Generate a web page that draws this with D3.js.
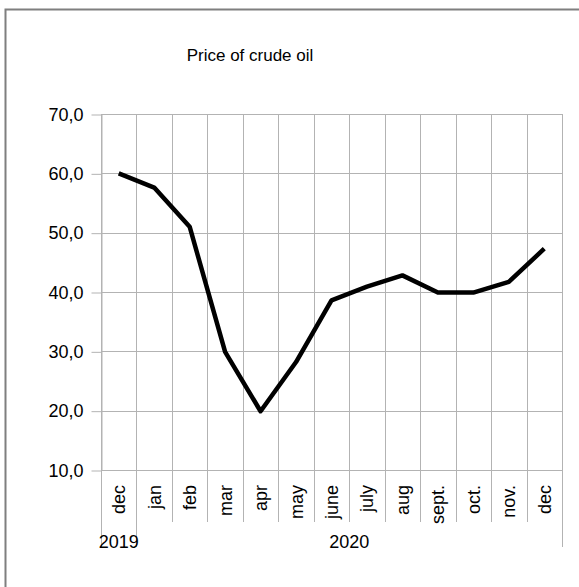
<!DOCTYPE html>
<html>
<head>
<meta charset="utf-8">
<script src="https://cdn.jsdelivr.net/npm/d3@7"></script>
<style>
  body { margin: 0; background: #fff; }
  svg { display: block; font-family: "Liberation Sans", Arial, sans-serif; }
</style>
</head>
<body>
<div id="chart"></div>
<script>
// chart data
var months = ["dec", "jan", "feb", "mar", "apr", "may", "june", "july", "aug", "sept.", "oct.", "nov.", "dec"];
var years = [
    { label: "2019", from: 0, to: 1 },
    { label: "2020", from: 1, to: 13 }
];
var prices = [60.0, 57.6, 51.0, 29.9, 19.9, 28.2, 38.6, 40.9, 42.8, 39.9, 39.9, 41.7, 47.3];
var yTicks = [10, 20, 30, 40, 50, 60, 70];

var W = 579, H = 587;
var plotL = 101, plotR = 562, plotT = 114, plotB = 470;
var fs = "18px";

var svg = d3.select("#chart").append("svg")
    .attr("width", W)
    .attr("height", H);

// outer frame
svg.append("rect")
    .attr("x", 5.5).attr("y", 9.5)
    .attr("width", 600).attr("height", 600)
    .attr("fill", "none")
    .attr("stroke", "#7f7f7f")
    .attr("stroke-width", 2);

svg.append("text")
    .attr("x", 250).attr("y", 61)
    .attr("text-anchor", "middle")
    .style("font-size", "17px")
    .text("Price of crude oil");

var x = d3.scaleBand().domain(d3.range(months.length)).range([plotL, plotR]).padding(0);
var y = d3.scaleLinear().domain([10, 70]).range([plotB, plotT]);

var grid = "#b3b3b3";

// horizontal grid
svg.append("g").selectAll("line")
    .data(yTicks)
    .join("line")
    .attr("x1", plotL).attr("x2", plotR)
    .attr("y1", function(d) { return Math.round(y(d)) + 0.5; })
    .attr("y2", function(d) { return Math.round(y(d)) + 0.5; })
    .attr("stroke", grid);

// y ticks
var yAxis = svg.append("g")
    .attr("transform", "translate(" + (plotL + 0.5) + ",0.5)")
    .call(d3.axisLeft(y).tickValues(yTicks).tickSize(10).tickSizeOuter(0)
        .tickFormat(function(d) { return d3.format(".1f")(d).replace(".", ","); }));
yAxis.select(".domain").attr("stroke", grid);
yAxis.selectAll(".tick line").attr("stroke", grid);
yAxis.selectAll(".tick text")
    .attr("x", -18)
    .attr("fill", "#000")
    .style("font-size", fs)
    .style("font-family", "Liberation Sans, Arial, sans-serif");

// vertical category boundaries (plot + month row)
var bounds = d3.range(months.length + 1).map(function(i) {
    return i < months.length ? x(i) : plotR;
});
svg.append("g").selectAll("line")
    .data(bounds)
    .join("line")
    .attr("x1", function(d) { return Math.round(d) + 0.5; })
    .attr("x2", function(d) { return Math.round(d) + 0.5; })
    .attr("y1", plotT).attr("y2", plotB + 52)
    .attr("stroke", grid);

// year dividers
var yearBounds = [0, 1, 13].map(function(i) { return i < months.length ? x(i) : plotR; });
svg.append("g").selectAll("line")
    .data(yearBounds)
    .join("line")
    .attr("x1", function(d) { return Math.round(d) + 0.5; })
    .attr("x2", function(d) { return Math.round(d) + 0.5; })
    .attr("y1", plotB).attr("y2", plotB + 77)
    .attr("stroke", grid);

// month labels
svg.append("g").selectAll("text")
    .data(months)
    .join("text")
    .attr("transform", function(d, i) {
        return "translate(" + (x(i) + x.bandwidth() / 2 + 6.5) + "," + (plotB + 15) + ") rotate(-90)";
    })
    .attr("text-anchor", "end")
    .style("font-size", fs)
    .text(function(d) { return d; });

// year labels
svg.append("g").selectAll("text")
    .data(years)
    .join("text")
    .attr("x", function(d) {
        var a = x(d.from), b = d.to < months.length ? x(d.to) : plotR;
        return (a + b) / 2;
    })
    .attr("y", plotB + 78)
    .attr("text-anchor", "middle")
    .style("font-size", fs)
    .text(function(d) { return d.label; });

// price line
var line = d3.line()
    .x(function(d, i) { return x(i) + x.bandwidth() / 2; })
    .y(function(d) { return y(d); });

svg.append("path")
    .datum(prices)
    .attr("d", line)
    .attr("fill", "none")
    .attr("stroke", "#000")
    .attr("stroke-width", 4.5)
    .attr("stroke-linejoin", "round");
</script>
</body>
</html>
